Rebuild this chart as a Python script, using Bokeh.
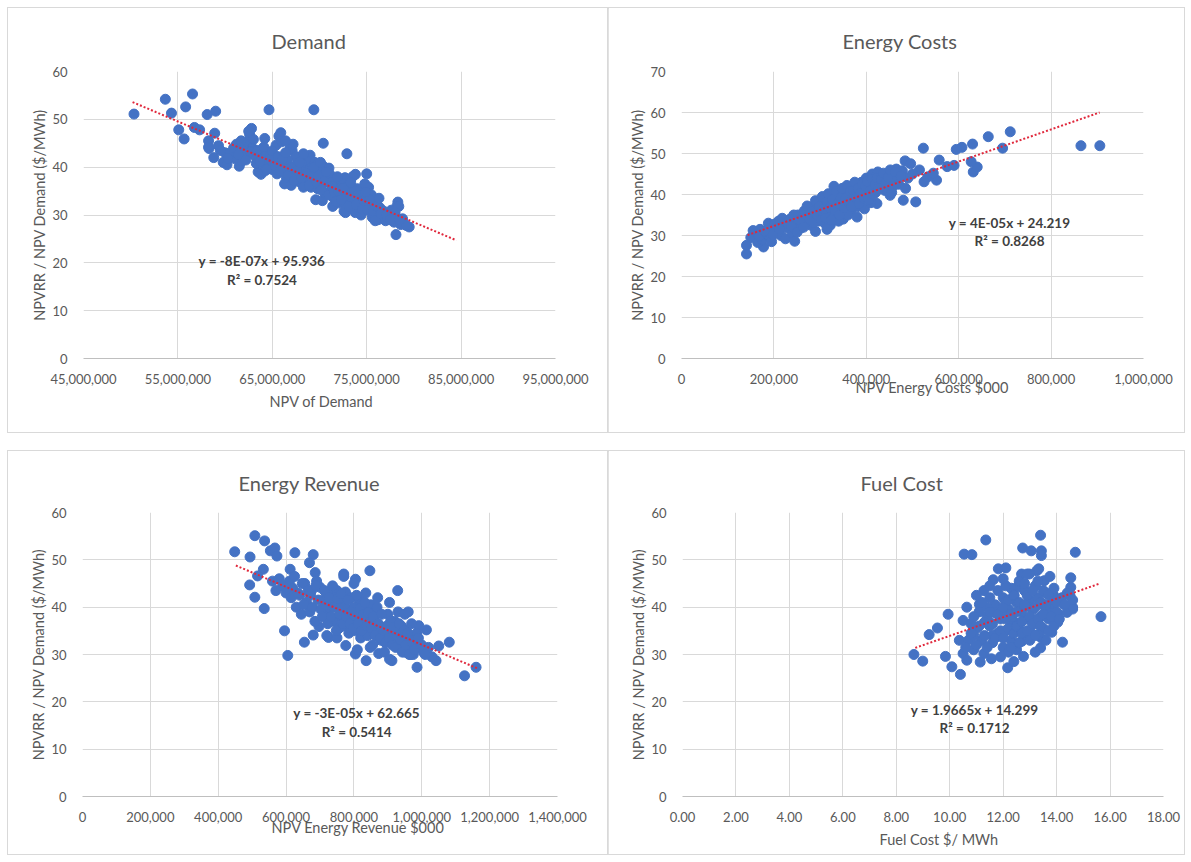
from bokeh.plotting import figure
from bokeh.layouts import column, row
from bokeh.models import FixedTicker, NumeralTickFormatter, Range1d, Label, Title, Spacer
from bokeh.embed import file_html
from bokeh.resources import INLINE

# ---------------- data ----------------
# Demand: x in millions (NPV of Demand), y in $/MWh
demand_x_m = [50.35, 53.67, 54.32, 55.09, 55.66, 55.82, 56.55, 56.75, 57.3, 58.1, 58.25, 58.25, 58.9, 59.0,
              64.65, 69.4, 70.4, 72.9, 72.75, 78.1, 78.3, 78.2, 79.5, 75.0, 73.8,
              58.3, 58.8, 59.3, 59.8, 60.2, 60.0, 60.7, 61.2, 61.5, 61.8, 62.0, 62.3, 62.6, 62.8, 62.5, 62.9,
              63.2, 63.5, 63.8, 63.3, 64.0, 64.3, 64.6, 64.8, 65.0, 65.2, 65.4, 65.7, 65.9, 66.0, 65.5, 66.2,
              66.5, 66.3, 66.8, 66.9, 67.1, 67.2, 67.0, 67.4, 67.6, 67.8, 68.0, 68.2, 68.4, 68.6, 68.7, 68.9,
              69.0, 69.2, 69.3, 69.5, 69.6, 69.8, 70.0, 70.1, 70.3, 70.4, 70.6, 70.8, 71.0, 71.2, 71.4, 71.5,
              71.7, 71.9, 72.1, 72.3, 72.4, 72.6, 72.8, 73.0, 73.2, 73.4, 73.6, 73.8, 74.0, 74.2, 74.4, 74.6,
              74.8, 75.0, 75.2, 75.4, 75.6, 75.8, 76.0, 76.2, 76.4, 76.6, 76.8, 77.0, 77.3, 77.6, 77.9, 78.1,
              78.4, 78.6, 78.8, 79.2, 73.5, 72.7, 71.1, 68.5, 67.5, 61.0, 63.9, 64.2, 66.6, 69.9, 70.9, 72.2,
              74.9, 76.9, 60.4, 62.1, 65.1, 68.1, 69.1, 71.3, 73.1, 74.3, 75.5, 77.2,
              59.5, 60.3, 60.9, 61.4, 61.7, 62.2, 62.7, 63.0, 63.4, 63.7, 64.1, 64.4, 64.7, 65.0, 65.3, 65.6,
              65.8, 66.1, 66.4, 66.7, 67.0, 67.3, 67.6, 67.9, 68.1, 68.3, 68.6, 68.9, 69.1, 69.4, 69.7, 69.9,
              70.2, 70.5, 70.7, 71.0, 71.3, 71.6, 71.8, 72.0, 72.3, 72.5, 72.9, 73.1, 73.3, 73.7, 73.9, 74.1,
              74.5, 74.7, 75.1, 75.3, 75.7, 75.9, 76.1, 76.5, 77.1, 77.5, 78.0, 78.5, 76.3, 74.9, 73.3, 71.9,
              70.1, 68.3, 66.4, 64.2]
demand_y = [51.1, 54.2, 51.3, 47.8, 45.9, 52.6, 55.3, 48.3, 47.8, 51.0, 45.5, 44.2, 47.1, 51.7,
            52.0, 52.0, 45.0, 42.8, 30.5, 25.9, 32.7, 31.8, 27.5, 38.6, 38.5,
            43.9, 42.0, 44.5, 41.0, 40.5, 43.0, 42.5, 44.8, 40.2, 41.3, 43.6, 45.2, 46.8, 48.1, 47.5, 44.0,
            42.3, 39.0, 38.5, 40.8, 41.8, 43.0, 40.0, 42.5, 39.5, 41.0, 44.6, 46.5, 47.2, 45.3, 38.6, 40.5,
            37.8, 36.5, 39.2, 44.0, 43.5, 44.8, 36.2, 38.0, 40.6, 37.0, 39.3, 36.5, 38.2, 40.0, 36.8, 41.2,
            42.5, 39.0, 37.5, 41.0, 33.2, 35.5, 38.8, 36.0, 33.0, 40.2, 34.5, 37.2, 39.8, 35.0, 31.8, 33.6,
            37.6, 35.8, 32.5, 34.2, 36.5, 30.8, 33.0, 36.0, 34.8, 31.5, 33.2, 30.5, 35.5, 32.2, 30.0, 34.0,
            36.5, 33.0, 35.8, 31.2, 29.5, 32.8, 30.5, 29.0, 31.5, 29.8, 30.8, 28.8, 30.2, 31.0, 28.5, 29.6,
            31.8, 28.0, 29.2, 27.8, 38.0, 37.8, 38.5, 41.5, 42.2, 41.8, 41.0, 39.2, 41.5, 40.8, 36.8, 37.5,
            34.8, 29.5, 42.8, 42.0, 42.0, 40.8, 35.8, 36.8, 32.2, 33.8, 34.2, 29.5,
            43.5, 41.8, 44.0, 42.6, 45.5, 41.5, 43.2, 45.8, 43.5, 41.2, 44.2, 39.5, 41.6, 43.4, 40.3, 42.2,
            39.2, 41.8, 43.0, 38.4, 40.0, 37.2, 39.2, 41.0, 37.8, 35.8, 38.6, 36.2, 38.0, 40.0, 36.8, 38.2,
            35.2, 37.0, 39.0, 34.2, 36.0, 34.8, 32.8, 35.0, 33.2, 35.6, 34.0, 31.8, 33.8, 35.0, 32.2, 34.2,
            31.2, 33.0, 31.0, 33.2, 30.8, 28.8, 31.8, 30.2, 30.0, 29.0, 30.5, 29.0, 33.5, 34.8, 36.8, 38.0,
            41.0, 42.8, 45.5, 46.0]
demand_trend_x_m = [50.2, 84.5]
demand_trend_y = [53.6, 24.7]

# Energy Costs: x in thousands ($000 NPV), y in $/MWh
costs_x_k = [140.7, 140.7, 177.5, 523.5, 664, 711.6, 864.6, 905.5, 695, 630, 607, 594.7, 557.8, 631.5, 640,
             507, 480, 484, 496, 451.5, 423, 533, 552, 590, 627, 525,
             150, 160, 165, 170, 175, 185, 190, 195, 205, 210, 215, 220, 225, 230, 235, 240, 245, 248, 252,
             258, 262, 266, 270, 275, 280, 284, 288, 292, 296, 300, 303, 306, 310, 313, 316, 320, 323, 326,
             330, 333, 336, 340, 343, 346, 350, 353, 356, 360, 363, 366, 370, 373, 376, 380, 383, 386, 390,
             393, 396, 400, 403, 406, 410, 413, 416, 420, 425, 430, 435, 440, 445, 450, 455, 460, 470, 478,
             322, 315, 340, 290, 330, 360, 380, 255, 278, 298, 308, 318, 328, 338, 348, 358, 368, 378, 388,
             398, 408, 418, 428, 438, 448, 465, 490, 515, 545, 575,
             155, 168, 180, 188, 198, 202, 212, 218, 228, 238, 243, 250, 256, 264, 268, 272, 278, 282, 286,
             290, 294, 298, 302, 305, 308, 312, 315, 318, 321, 324, 327, 332, 335, 338, 342, 345, 348, 352,
             355, 358, 362, 365, 368, 372, 375, 378, 382, 385, 388, 392, 395, 398, 402, 405, 409, 412, 415,
             419, 423, 427, 432, 437, 442, 447, 452, 458, 463, 475, 485, 500]
costs_y = [25.5, 27.6, 27.2, 51.3, 54.1, 55.3, 51.9, 51.9, 51.3, 52.3, 51.5, 51.0, 48.4, 45.5, 46.7,
           38.2, 38.6, 48.2, 47.5, 39.8, 37.8, 44.3, 43.5, 47.1, 48.0, 43.1,
           29.5, 30.8, 28.3, 31.5, 29.0, 30.2, 32.0, 28.5, 31.0, 33.5, 30.0, 32.5, 29.2, 31.8, 34.0, 30.5,
           28.6, 33.0, 35.0, 31.8, 34.2, 36.0, 33.0, 35.5, 32.5, 37.0, 34.5, 36.2, 33.5, 38.0, 35.2, 37.2,
           33.0, 39.0, 36.0, 38.5, 34.5, 40.0, 37.0, 35.5, 39.5, 41.0, 36.5, 38.2, 34.0, 40.2, 37.5, 41.5,
           39.0, 36.0, 42.0, 38.5, 40.5, 37.0, 42.5, 39.8, 43.0, 41.0, 36.5, 44.0, 40.0, 42.2, 38.0, 45.0,
           43.0, 40.5, 45.5, 42.0, 44.5, 41.0, 45.0, 43.5, 40.5, 44.0, 42.5, 45.8,
           32.5, 31.5, 33.5, 31.0, 42.0, 35.0, 34.5, 32.0, 34.0, 35.8, 36.5, 37.8, 38.8, 39.5, 40.5, 41.2,
           40.0, 41.8, 42.8, 42.0, 43.5, 44.2, 43.8, 43.0, 44.8, 46.2, 44.0, 46.0, 45.2, 46.8,
           31.2, 29.8, 31.0, 33.0, 30.2, 32.8, 31.5, 34.2, 33.2, 32.2, 35.0, 30.8, 33.8, 32.0, 35.2, 37.2,
           34.0, 35.8, 33.2, 38.5, 35.0, 37.0, 33.8, 39.5, 36.5, 34.2, 38.2, 40.2, 36.8, 33.8, 38.8, 36.2,
           40.8, 37.8, 35.0, 39.2, 41.5, 36.8, 39.0, 42.2, 38.0, 40.8, 37.0, 41.0, 43.0, 39.2, 41.5, 37.8,
           40.5, 42.5, 39.0, 42.0, 43.2, 38.8, 41.0, 43.8, 40.0, 42.5, 44.0, 41.5, 43.8, 45.2, 42.8, 44.2,
           46.0, 42.0, 45.5, 44.5, 41.5, 45.0]
costs_trend_x_k = [143, 905]
costs_trend_y = [30.1, 60.0]

# Energy Revenue: x in thousands ($000 NPV), y in $/MWh
revenue_x_k = [448.6, 493.8, 508, 536.7, 553.7, 567, 573, 626, 680, 492.7, 508, 535.6, 533, 516, 595.5,
               654, 612, 669, 685.9, 770, 804.5, 847, 929, 1081, 1160, 1126, 836, 873, 912, 986, 951,
               1042, 1013.6, 991, 697, 680, 776, 804.5, 725,
               700, 710, 720, 730, 740, 745, 750, 755, 760, 765, 770, 775, 780, 785, 790, 795, 800, 805,
               810, 815, 820, 825, 830, 835, 840, 845, 850, 855, 860, 865, 870, 875, 880, 610, 620, 630,
               640, 645, 655, 660, 670, 675, 685, 690, 580, 590, 600, 570, 560, 900, 905, 910, 915, 920,
               925, 930, 935, 940, 945, 950, 955, 960, 965, 970, 975, 980, 985, 995, 1005, 1020, 1030, 960,
               890, 905, 720, 750, 810, 770, 800, 735, 765, 795, 825, 855, 885, 715, 745, 775, 815, 845,
               875, 950, 968, 988, 1050,
               605, 615, 625, 635, 648, 652, 665, 672, 678, 688, 695, 703, 707, 713, 717, 723, 727, 733,
               737, 742, 748, 752, 758, 762, 768, 772, 778, 782, 788, 792, 798, 802, 808, 812, 818, 822,
               828, 832, 838, 842, 848, 852, 858, 862, 868, 872, 878, 882, 888, 893, 897, 903, 908, 913,
               918, 923, 928, 933, 938, 943, 948, 953, 958, 963, 972, 978, 990, 1000, 1010]
revenue_y = [51.7, 50.6, 55.1, 54.0, 51.9, 52.5, 50.8, 51.5, 51.1, 44.7, 42.1, 39.7, 48.0, 46.6, 35.0,
             32.6, 48.0, 49.4, 47.3, 47.0, 45.9, 47.7, 43.5, 32.6, 27.3, 25.5, 28.7, 30.2, 28.7, 27.3, 30.5,
             28.7, 35.2, 36.1, 35.9, 34.1, 31.9, 30.1, 33.6,
             44.2, 41.5, 39.0, 42.8, 37.0, 40.5, 43.5, 35.5, 38.5, 41.0, 36.0, 43.2, 39.5, 34.5, 42.0, 37.5,
             40.0, 35.0, 38.0, 41.5, 33.5, 36.5, 39.5, 43.0, 34.0, 37.0, 40.5, 32.0, 35.5, 38.5, 42.0, 36.0,
             33.0, 45.5, 44.0, 40.0, 42.5, 38.5, 45.0, 41.0, 39.0, 43.5, 37.0, 45.5, 46.0, 44.5, 43.0, 43.5,
             45.5, 38.5, 41.0, 35.0, 33.0, 37.0, 34.5, 39.0, 31.5, 36.0, 33.5, 38.5, 35.0, 31.0, 33.5, 36.5,
             30.0, 32.5, 34.5, 31.5, 30.5, 31.5, 29.5, 39.0, 30.5, 29.0, 34.0, 33.5, 31.0, 46.5, 45.0, 40.2,
             37.8, 36.2, 39.0, 37.8, 34.8, 38.0, 42.0, 36.8, 41.8, 38.8, 35.2, 32.8, 30.0, 33.0, 31.8, 29.8,
             42.0, 46.5, 43.0, 45.0, 40.5, 43.5, 42.5, 40.0, 44.5, 41.5, 39.5, 38.0, 43.5, 40.5, 36.5, 42.0,
             38.0, 44.5, 40.0, 35.0, 41.8, 38.5, 42.8, 36.5, 40.0, 38.0, 41.5, 36.5, 39.0, 35.5, 38.2, 42.5,
             36.5, 39.8, 35.0, 38.5, 41.0, 36.0, 38.8, 31.5, 35.5, 38.0, 34.0, 40.0, 36.5, 33.5, 38.5, 35.0,
             32.5, 36.0, 33.5, 37.0, 32.0, 35.8, 31.5, 34.0, 36.5, 33.0, 30.5, 35.0, 32.0, 34.5, 30.0, 32.5,
             31.0, 33.5, 32.0, 30.0, 32.5]
revenue_trend_x_k = [452, 1163]
revenue_trend_y = [48.8, 27.1]

# Fuel Cost: x in $/MWh, y in $/MWh
fuel_x = [8.66, 8.99, 9.23, 9.54, 9.94, 9.84, 10.08, 10.40, 10.54, 10.83, 11.35, 12.73, 13.05, 13.40, 13.43,
          13.43, 14.70, 15.66, 14.22, 12.17, 12.76, 13.40, 13.43, 11.82, 12.10, 11.63, 13.26, 13.33, 14.53,
          14.53, 14.60, 14.39, 14.04, 14.04, 13.82, 11.28, 11.28, 11.14, 11.56, 10.50, 10.64, 10.36, 10.50,
          10.64, 11.11, 11.42, 12.34, 12.41, 12.52, 12.69, 12.98, 13.54, 13.75, 13.89,
          11.0, 11.2, 11.4, 11.5, 11.6, 11.7, 11.8, 11.9, 12.0, 12.0, 12.1, 12.2, 12.3, 12.3, 12.4, 12.5,
          12.5, 12.6, 12.7, 12.8, 12.8, 12.9, 13.0, 13.0, 13.1, 13.2, 13.2, 13.3, 13.4, 13.5, 13.5, 13.6,
          13.7, 13.8, 13.9, 14.0, 13.6, 12.2, 11.9, 11.5, 10.8, 10.7, 10.9, 11.1, 12.6, 13.9, 14.2, 14.5,
          14.6, 13.2, 12.4, 11.3, 11.7, 12.1, 12.9, 13.1, 13.6, 11.6, 12.3, 12.7, 13.3, 10.9, 11.4, 12.0,
          10.6, 10.8, 10.9, 11.0, 11.1, 11.2, 11.3, 11.4, 11.5, 11.6, 11.7, 11.8, 11.8, 11.9, 12.0, 12.0,
          12.1, 12.1, 12.2, 12.2, 12.3, 12.3, 12.4, 12.4, 12.5, 12.5, 12.6, 12.6, 12.7, 12.7, 12.8, 12.8,
          12.9, 12.9, 13.0, 13.0, 13.1, 13.1, 13.2, 13.2, 13.3, 13.3, 13.4, 13.4, 13.5, 13.5, 13.6, 13.7,
          13.7, 13.8, 13.9, 14.0, 14.1, 14.3, 14.4, 14.6, 11.0, 11.5, 12.0, 12.9]
fuel_y = [30.0, 28.6, 34.2, 35.6, 38.5, 29.6, 27.4, 25.8, 51.2, 51.1, 54.2, 52.5, 51.9, 55.2, 51.9,
          50.9, 51.6, 38.0, 32.6, 27.2, 29.6, 31.4, 33.5, 48.1, 48.3, 45.8, 47.7, 48.1, 46.2,
          44.2, 39.6, 38.9, 38.6, 36.8, 34.7, 43.5, 30.2, 28.4, 29.1, 30.2, 28.8, 33.0, 37.2,
          40.0, 40.6, 37.2, 38.6, 42.5, 44.2, 47.0, 47.0, 45.6, 46.5, 42.5,
          35.5, 33.0, 38.0, 36.0, 32.5, 40.5, 34.5, 37.5, 31.5, 42.0, 35.0, 39.5, 33.0, 44.0, 37.0, 41.0,
          31.0, 35.5, 39.0, 43.5, 33.5, 37.5, 41.5, 35.0, 39.5, 44.5, 36.5, 42.0, 38.0, 40.5, 35.5, 43.0,
          37.5, 40.0, 41.5, 39.0, 33.0, 30.5, 29.5, 42.0, 36.5, 33.0, 31.0, 39.0, 45.5, 44.0, 42.0, 42.5,
          40.0, 30.5, 28.5, 36.8, 38.8, 41.2, 40.2, 37.0, 39.2, 34.0, 36.0, 32.8, 34.2, 34.0, 40.0, 38.2,
          31.5, 34.5, 38.0, 32.0, 36.0, 41.0, 34.0, 31.5, 39.0, 36.5, 33.5, 43.5, 38.5, 35.0, 40.0, 33.5,
          37.5, 44.5, 35.5, 41.5, 38.5, 31.5, 42.5, 34.5, 39.0, 36.0, 32.5, 41.0, 37.0, 34.5, 40.5, 45.0,
          35.0, 42.5, 38.0, 33.0, 36.5, 43.5, 40.0, 34.0, 37.5, 45.5, 41.0, 36.0, 43.5, 38.5, 40.5, 35.0,
          42.5, 38.0, 36.0, 41.0, 37.5, 40.5, 43.0, 41.5, 42.5, 44.5, 46.0, 47.0]
fuel_trend_x = [8.71, 15.62]
fuel_trend_y = [31.4, 45.0]

demand_x = [v * 1e6 for v in demand_x_m]
demand_trend_x = [v * 1e6 for v in demand_trend_x_m]
costs_x = [v * 1e3 for v in costs_x_k]
costs_trend_x = [v * 1e3 for v in costs_trend_x_k]
revenue_x = [v * 1e3 for v in revenue_x_k]
revenue_trend_x = [v * 1e3 for v in revenue_trend_x_k]

Y_LABEL = "NPVRR / NPV Demand ($/MWh)"
FONT = "Lato"
TXT = "#595959"
GRID = "#d9d9d9"
BLUE = "#4472C4"
RED = "#E0283C"


def make_panel(title, xs, ys, tx, ty, xr, xticks, yr, yticks, xfmt, eq, r2, eq_x, eq_y, r2_y,
               xlabel, xl_off, xl_standoff, w, h, bl, br, bt, bb, toff, tstand):
    p = figure(width=w, height=h, x_range=Range1d(*xr), y_range=Range1d(*yr),
               output_backend="svg", toolbar_location=None,
               min_border_left=bl, min_border_right=br, min_border_top=bt, min_border_bottom=bb)
    p.title = Title(text=title, align="left", offset=toff, standoff=tstand, vertical_align="bottom",
                    text_font=FONT, text_font_size="20px", text_font_style="normal", text_color=TXT)
    p.outline_line_color = None
    p.background_fill_color = "white"
    p.border_fill_color = "white"
    p.styles = {"box-shadow": "0 0 0 1px #d9d9d9"}

    p.xaxis.ticker = FixedTicker(ticks=xticks)
    p.yaxis.ticker = FixedTicker(ticks=yticks)
    p.xaxis.formatter = NumeralTickFormatter(format=xfmt)
    for ax in (p.xaxis, p.yaxis):
        ax.major_tick_line_color = None
        ax.minor_tick_line_color = None
        ax.major_label_text_font = FONT
        ax.major_label_text_font_size = "13px"
        ax.major_label_text_color = TXT
    p.xaxis.axis_line_color = "#bfbfbf"
    p.yaxis.axis_line_color = None
    p.xaxis.major_label_standoff = 9
    p.yaxis.major_label_standoff = 10
    p.yaxis.axis_label = Y_LABEL
    p.yaxis.axis_label_text_font = FONT
    p.yaxis.axis_label_text_font_size = "14.5px"
    p.yaxis.axis_label_text_font_style = "normal"
    p.yaxis.axis_label_text_color = TXT
    p.yaxis.axis_label_standoff = 1
    p.xgrid.grid_line_color = GRID
    p.ygrid.grid_line_color = GRID

    p.scatter(xs, ys, size=10, fill_color=BLUE, line_color=BLUE)
    p.line(tx, ty, line_color=RED, line_width=2, line_dash="2 2")

    for t, yy in ((eq, eq_y), (r2, r2_y)):
        p.add_layout(Label(x=eq_x, y=yy, text=t, text_align="center", text_baseline="middle",
                           text_font=FONT, text_font_size="13.5px", text_font_style="bold",
                           text_color="#404040"))
    p.add_layout(Title(text=xlabel, align="left", offset=xl_off, standoff=xl_standoff,
                       text_font=FONT, text_font_size="14.5px", text_font_style="normal",
                       text_color=TXT), "below")
    return p


p1 = make_panel("Demand", demand_x, demand_y, demand_trend_x, demand_trend_y,
                (45e6, 95e6), [45e6, 55e6, 65e6, 75e6, 85e6, 95e6], (0, 60), [0, 10, 20, 30, 40, 50, 60],
                "0,0", "y = -8E-07x + 95.936", "R² = 0.7524", 63.9e6, 20.3, 16.5,
                "NPV of Demand", 186, 8, 600, 424, 75, 53, 63, 74, 188, 37)
p2 = make_panel("Energy Costs", costs_x, costs_y, costs_trend_x, costs_trend_y,
                (0, 1e6), [0, 2e5, 4e5, 6e5, 8e5, 1e6], (0, 70), [0, 10, 20, 30, 40, 50, 60, 70],
                "0,0", "y = 4E-05x + 24.219", "R² = 0.8268", 710e3, 33.0, 28.6,
                "NPV Energy Costs $000", 174, -19, 576, 424, 73, 41, 63, 74, 161, 37)
p3 = make_panel("Energy Revenue", revenue_x, revenue_y, revenue_trend_x, revenue_trend_y,
                (0, 1.4e6), [0, 2e5, 4e5, 6e5, 8e5, 1e6, 1.2e6, 1.4e6], (0, 60), [0, 10, 20, 30, 40, 50, 60],
                "0,0", "y = -3E-05x + 62.665", "R² = 0.5414", 808e3, 17.6, 13.6,
                "NPV Energy Revenue  $000", 189, -15, 600, 403, 74, 51, 61, 58, 156, 35)
p4 = make_panel("Fuel Cost", fuel_x, fuel_y, fuel_trend_x, fuel_trend_y,
                (0, 18), [0, 2, 4, 6, 8, 10, 12, 14, 16, 18], (0, 60), [0, 10, 20, 30, 40, 50, 60],
                "0.00", "y = 1.9665x + 14.299", "R² = 0.1712", 10.93, 18.3, 14.5,
                "Fuel Cost $/ MWh", 197, 8, 576, 403, 74, 21, 61, 58, 178, 35)

layout = column(Spacer(height=8), row(Spacer(width=8), p1, p2), Spacer(height=19),
                row(Spacer(width=8), p3, p4))
open("out.html", "w").write(file_html(layout, INLINE))
